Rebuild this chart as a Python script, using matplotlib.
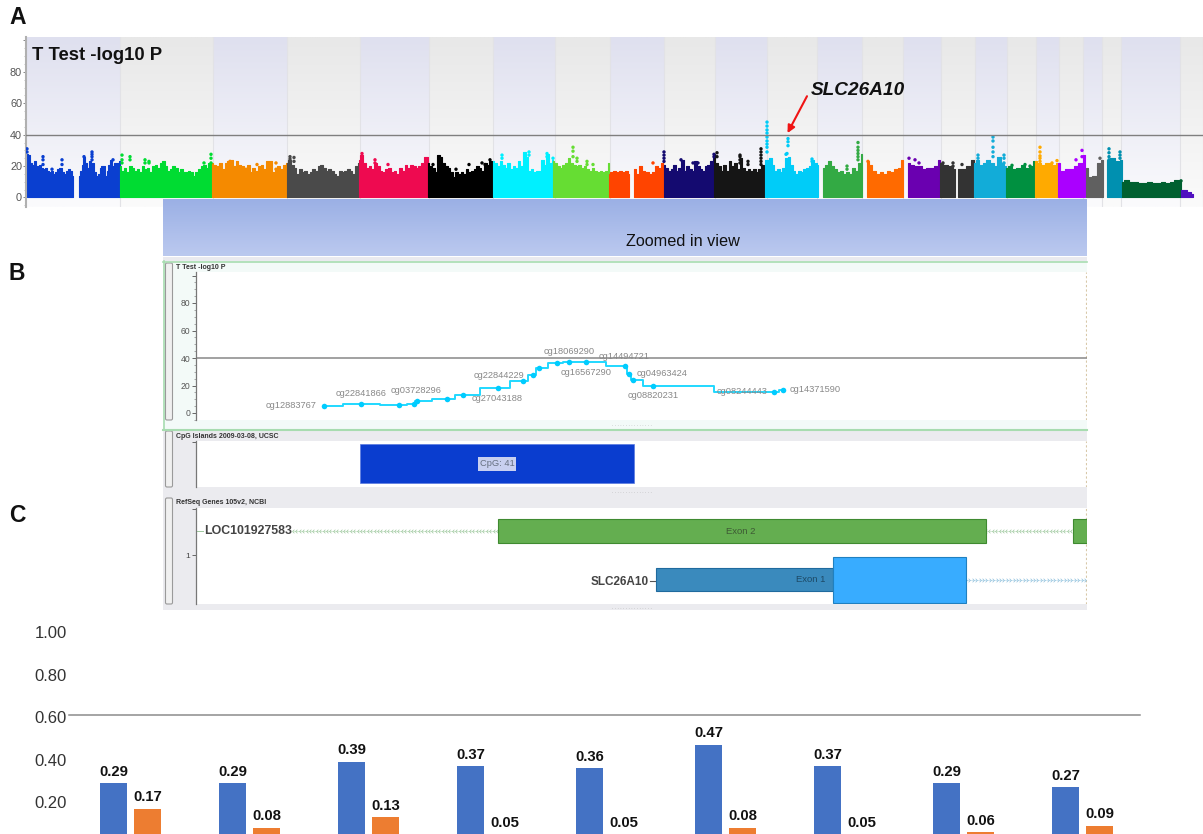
import numpy as np
import matplotlib
matplotlib.use("Agg")
import matplotlib.pyplot as plt
from matplotlib.patches import Rectangle, FancyBboxPatch
from matplotlib.path import Path
from matplotlib.ticker import MultipleLocator

plt.rcParams['font.family'] = ['Liberation Sans', 'DejaVu Sans']

# ---------- DATA ----------
# Manhattan: chromosome segments (start, end on the genome axis), colour and envelope of -log10 P
chrom_spans = [(27,73),(79,120),(120,212),(212,287),(287,359),(359,428),(428,493),(493,553),(553,609),
               (609,629),(634,663),(664,714),(714,765),(765,818),(823,862),(867,903),(908,940),(940,955),
               (958,974),(974,1006),(1006,1035),(1035,1058),(1058,1085),(1086,1103),(1107,1122),(1122,1181),(1181,1193)]
chrom_colors = ['#0a3fd0','#0a3fd0','#00dc32','#f58a00','#4a4a4a','#ee0a50','#000000','#00f0ff','#66dd33',
                '#ff4400','#ff4400','#140a70','#151515','#00ccf8','#33aa44','#ff6a00','#6a00b0','#333333',
                '#333333','#12acd8','#009040','#ffaa00','#aa00ff','#606060','#0090b0','#006030','#5010c0']
chrom_env = [
 [28,27,22,21,23,20,21,19,18,19,17,16,17,15,16,18,19,16,15,17,18,17,14],
 [14,17,21,26,22,19,23,17,22,16,14,15,19,20,20,14,17,21,24,20,22,19,22,23],
 [20,17,19,16,20,19,17,18,16,20,18,19,16,20,21,19,22,23,20,17,18,20,19,16,18,16,16,17,16,14,16,18,20,21,19,22,20],
 [22,21,20,22,18,22,23,24,20,23,21,20,18,21,16,19,17,20,21,18,23,23,16,19,20,18,21,22],
 [22,24,21,19,15,18,16,17,15,16,18,17,20,21,19,17,18,17,15,14,17,16,17,18,17,15,20,22],
 [24,27,22,19,20,18,22,20,17,16,18,19,16,17,15,19,17,21,19,21,20,19,20,22,26,26],
 [22,20,19,16,27,26,22,20,19,16,13,16,15,16,15,18,16,17,18,20,19,17,22,21,23,22],
 [23,22,20,23,21,19,22,18,20,19,23,20,29,26,17,18,16,17,17,24,21,28,22,24],
 [23,22,20,19,21,22,25,22,21,20,21,19,20,18,17,19,17,16,17,16,17,22],
 [15,16,17,16,17,16,17,15],
 [18,15,20,17,16,15,16,20,19,22],
 [21,19,17,18,21,17,19,24,17,20,18,17,23,20,18,17,20,21,23,26],
 [28,22,20,17,21,17,23,20,22,18,25,19,17,18,17,18,16,18,21,20],
 [24,24,25,21,17,18,16,19,25,26,21,17,15,17,16,18,19,20,24,22,21],
 [19,21,23,20,18,16,17,15,16,15,19,17,22,28],
 [23,21,17,15,16,15,17,16,18,19,24],
 [22,21,20,20,18,19,19,20,24],
 [22,21,20,18],
 [18,18,20,24],
 [22,24,21,22,24,22,20,26,22,20],
 [19,20,18,19,21,19,20,23],
 [23,22,21,22,22,21,22],
 [22,17,18,18,20,22,27],
 [19,13,14,22,24],
 [24,25,23,24],
 [10,11,10,10,9,9,10,9,9,10,9,10,11,11],
 [4.5,5,3.5,2],
]
# Points standing clear of the mass (genome position, -log10 P)
dot_x = [27,27,43,43,43,52,62,62,84,92,92,92,92,113,122,122,122,130,130,145,145,149,149,204,211,211,211,
         230,246,257,276,276,290,290,294,294,362,362,375,375,388,433,456,469,482,485,490,
         502,502,529,529,547,547,553,573,573,573,577,577,587,587,593,653,
         664,664,664,664,681,693,698,714,714,717,717,740,740,740,740,748,748,761,761,761,761,761,761,
         767,767,767,767,767,767,767,767,767,788,788,788,787,786,812,812,
         847,847,858,858,858,858,858,858,868,909,915,919,943,953,953,962,
         978,978,993,993,993,993,993,1004,1004,1004,1012,1025,1030,
         1040,1040,1040,1040,1040,1052,1057,1076,1082,1082,1100,1109,1109,1109,1109,1120,1120,1120,1181]
dot_y = [31,29,26,24,21,18,24,21,26,29,27.5,26,24,24,27,24,22,26,24,24,22,23,22,22,27.5,25,22,
         23,18,21,22,18,26,24.5,25.5,23,28,26,24,22,21,21,18,21,22,21,24,
         27,25,29,27,28,26,25,32,29.5,26,25,23,23,21,21,22,
         29,27,25,23,24,22,22,27.5,26,28.5,26,27,26,24,22,23,21,31,29,27,25,23,21,
         48,45.5,43,41,38.5,36,34,32,29,37.5,35.5,33,28,27.5,24.5,23,
         20,18,35,32,30,28,26,24,23,25,24,22,22,22,20,21,
         27,25,38.5,36,32,29,26,27,25,22,20.5,21,20,
         32,29,26.5,25,23,22,23.5,24,30,26,25,31,28.5,26,24,29,27,25,10.6]

band_edges = [26,120,213,287,360,429,493,555,610,664,715,767,817,862,903,941,975,1007,1036,1059,1083,1102,1121,1180,1203]
threshold_a = 40

# Zoomed track: CpG probes
probe_x = [324.3,361,399,414,416.7,446.7,463,497.7,523,532.7,539,556.7,569.3,586,625,629.3,632.7,653,774,783]
probe_y = [5.4,6.6,5.9,6.3,9,10.5,13.4,18,23,28,33,36.6,37.3,36.8,33.9,28.5,23.7,20,15.6,16.6]
probe_names = ['cg12883767','cg22841866','cg03728296','cg27043188','cg22844229','cg18069290','cg16567290',
               'cg14494721','cg04963424','cg08820231','cg08244443','cg14371590']
probe_label_x = [266,336,391,472,474,543.7,561,599,636.7,628,716.7,790]
probe_label_py = [405.7,393.3,390.3,398.3,375,351.7,372.7,356.7,374,395.7,391.7,389.7]

# Annotation tracks
cpg_span = (360,634)
cpg_label = 'CpG: 41'
exon2_span = (498,986)
exon_next_span = (1073,1087)
exon1_span = (656,833)
exon1_utr_span = (833,966)

# Bars
categories = list(range(9))
blue_vals = [0.29,0.29,0.39,0.37,0.36,0.47,0.37,0.29,0.27]
orange_vals = [0.17,0.08,0.13,0.05,0.05,0.08,0.05,0.06,0.09]
bar_ticks = [0.2,0.4,0.6,0.8,1.0]
bar_rule = 0.609

# ---------- LAYOUT ----------
W, H = 1203, 834
fig = plt.figure(figsize=(W/100, H/100), dpi=100, facecolor='white')

def box(x0, y0, x1, y1, **kw):
    return fig.add_axes([x0/W, 1-y1/H, (x1-x0)/W, (y1-y0)/H], **kw)

bg = box(0, 0, W, H, zorder=0)
bg.set_xlim(0, W); bg.set_ylim(H, 0); bg.axis('off')

def grad(ax, extent, top, bottom, z=0):
    c = np.linspace(0, 1, 64)[:, None, None]
    t = np.array(matplotlib.colors.to_rgb(top))[None, None, :]
    b = np.array(matplotlib.colors.to_rgb(bottom))[None, None, :]
    ax.imshow(t*(1-c)+b*c, extent=extent, aspect='auto', origin='upper', zorder=z, interpolation='bilinear')

# ---------- Panel A ----------
a = box(26, 37, 1203, 207, zorder=1)
ymin_a, ymax_a = -6.05, 102.2
for i, (x0, x1) in enumerate(zip(band_edges[:-1], band_edges[1:])):
    if i % 2 == 0:
        grad(a, (x0, x1, ymin_a, ymax_a), '#dfe0ef', '#fbfbfd')
    else:
        grad(a, (x0, x1, ymin_a, ymax_a), '#e8e8e8', '#fbfbfb')
    a.axvline(x1, color='#e2e2e6', lw=0.8, zorder=0.5)
for (x0, x1), col, env in zip(chrom_spans, chrom_colors, chrom_env):
    xs = np.linspace(x0, x1, len(env))
    a.fill_between(xs, 0, env, step='mid', facecolor=col, edgecolor=col, lw=0.8, zorder=2, joinstyle='round')
    a.fill_between([x0, x1], 0, min(6, min(env)), color=col, lw=0, zorder=2)
def span_color(x):
    for (x0, x1), col in zip(chrom_spans, chrom_colors):
        if x0 <= x <= x1:
            return col
    return '#000000'
a.scatter(dot_x, dot_y, s=6, c=[span_color(x) for x in dot_x], lw=0, zorder=3)
a.axhline(threshold_a, color='#7f7f7f', lw=1.0, zorder=4)
a.set_xlim(26, 1203); a.set_ylim(ymin_a, ymax_a)
a.set_xticks([])
a.set_yticks([0, 20, 40, 60, 80, 100])
a.set_yticklabels(['0', '20', '40', '60', '80', ''], fontsize=7.8, color='#555555')
a.yaxis.set_minor_locator(MultipleLocator(5))
a.tick_params(axis='y', which='major', length=2.5, width=0.7, color='#888888', pad=0.3)
a.tick_params(axis='y', which='minor', length=1.2, width=0.5, color='#aaaaaa')
for s in ['top', 'right', 'bottom']:
    a.spines[s].set_visible(False)
a.spines['left'].set_color('#b0b0b0'); a.spines['left'].set_linewidth(1.5)
a.text(31.5, 90.5, 'T Test -log10 P', fontsize=13.3, fontweight='bold', color='#111111', va='center', ha='left', zorder=6)
a.text(811, 68, 'SLC26A10', fontsize=13.7, fontweight='bold', style='italic', color='#111111', va='center', ha='left', zorder=6)
a.annotate('', xy=(787.5, 41), xytext=(807, 64.5),
           arrowprops=dict(arrowstyle='-|>', color='#f01414', lw=1.5, mutation_scale=11, shrinkA=0, shrinkB=0), zorder=6)

# ---------- Zoomed in view band ----------
z = box(163, 199, 1087, 256, zorder=2)
grad(z, (0, 1, 0, 1), '#9bb0e5', '#bbc9ef')
z.set_xlim(0, 1); z.set_ylim(0, 1); z.axis('off')
z.text(0.5625, 0.26, 'Zoomed in view', fontsize=11.7, color='#111111', ha='center', va='center')

# Backgrounds of tracks
bg.add_patch(Rectangle((163, 257), 924, 5, fc='#eaeaef', ec='none'))
bg.add_patch(Rectangle((163, 261), 924, 170, fc='#f3faf8', ec='none'))
bg.add_patch(Rectangle((163, 431), 924, 64, fc='#ebebef', ec='none'))
bg.add_patch(Rectangle((163, 495), 924, 115, fc='#ebebef', ec='none'))
bg.plot([163, 1087], [261.5, 261.5], color='#a8dcb0', lw=1.2)
bg.plot([163, 1087], [429.5, 429.5], color='#a8dcb0', lw=1.5)
bg.plot([164, 164], [261, 430], color='#a8dcb0', lw=1.2)
for y0, y1 in [(263, 420), (431, 487), (498, 604)]:
    bg.add_patch(FancyBboxPatch((165.5, y0), 7, y1-y0, boxstyle='round,pad=0,rounding_size=1.5',
                                fc='#f0f0f0', ec='#9a9a9a', lw=0.8))
for y, t in [(267.5, 'T Test -log10 P'), (436, 'CpG Islands 2009-03-08, UCSC'), (502, 'RefSeq Genes 105v2, NCBI')]:
    bg.text(176, y, t, fontsize=5, fontweight='bold', color='#333333', va='center', ha='left')
for y in [424.5, 491, 607.5]:
    bg.text(632, y, '. . . . . . . . . . . . . . .', fontsize=3.5, color='#999999', ha='center', va='center')
for label, x, y in [('A', 9, 17), ('B', 9, 273), ('C', 9, 515)]:
    bg.text(x, y, label, fontsize=16.5, fontweight='bold', color='#111111', va='center', ha='left')

# ---------- Panel B: probes ----------
b = box(196, 272, 1086.5, 420, zorder=1)
b.set_facecolor('white')
b.step(probe_x, probe_y, where='mid', color='#20d8ff', lw=1.4, zorder=3)
b.plot(probe_x, probe_y, ls='none', marker='o', ms=4, color='#00ccff', mew=0, zorder=4)
b.axhline(threshold_a, color='#888888', lw=1.1, zorder=2)
b.axvline(1085.5, color='#d8c8a8', lw=0.8, ls=(0, (2, 2)), zorder=1)
def by(py):
    return (413-py)/1.375
for name, lx, py in zip(probe_names, probe_label_x, probe_label_py):
    b.text(lx, by(py), name, fontsize=6.7, color='#888888', ha='left', va='center', zorder=5)
b.set_xlim(196, 1086.5); b.set_ylim(by(420), by(272))
b.set_xticks([])
b.set_yticks([0, 20, 40, 60, 80, 100])
b.set_yticklabels(['0', '20', '40', '60', '80', ''], fontsize=6.2, color='#555555')
b.yaxis.set_minor_locator(MultipleLocator(5))
b.tick_params(axis='y', which='major', length=3, width=0.7, color='#666666', pad=1)
b.tick_params(axis='y', which='minor', length=1.5, width=0.5, color='#888888')
for s in ['top', 'right', 'bottom']:
    b.spines[s].set_visible(False)
b.spines['left'].set_color('#777777'); b.spines['left'].set_linewidth(0.9)

# ---------- CpG track ----------
c = box(196, 441, 1086.5, 487, zorder=1)
c.set_facecolor('white')
c.barh(0.511, cpg_span[1]-cpg_span[0], left=cpg_span[0], height=0.848, color='#0a3dcf', edgecolor='#5a7ae0', lw=0.5)
c.text(sum(cpg_span)/2, 0.5, cpg_label, fontsize=6.7, color='#667080', ha='center', va='center',
       bbox=dict(fc='#c8d0f0', ec='none', pad=1.5))
c.axvline(1085.5, color='#d8c8a8', lw=0.8, ls=(0, (2, 2)))
c.set_xlim(196, 1086.5); c.set_ylim(0, 1)
c.set_xticks([]); c.set_yticks([0.98]); c.set_yticklabels([''])
c.tick_params(axis='y', length=3, width=0.7, color='#666666')
for s in ['top', 'right', 'bottom']:
    c.spines[s].set_visible(False)
c.spines['left'].set_color('#777777'); c.spines['left'].set_linewidth(0.9)

# ---------- RefSeq track ----------
r = box(196, 508, 1087, 604, zorder=1)
r.set_facecolor('white')
left_chev = Path([(0.5, 1), (-0.5, 0), (0.5, -1)], [Path.MOVETO, Path.LINETO, Path.LINETO])
right_chev = Path([(-0.5, 1), (0.5, 0), (-0.5, -1)], [Path.MOVETO, Path.LINETO, Path.LINETO])
for x0, x1 in [(293, exon2_span[0]), (exon2_span[1], exon_next_span[0])]:
    xs = np.arange(x0, x1, 3.4)
    r.plot(xs, [531]*len(xs), ls='-', lw=0.4, color='#b8d8b8', marker=left_chev, ms=2.6, mfc='none', mec='#9dc79d', mew=0.5)
r.plot([197, 203], [531, 531], color='#9dc79d', lw=0.7)
xs = np.arange(exon1_utr_span[1], 1087, 3.4)
r.plot(xs, [580]*len(xs), ls='-', lw=0.4, color='#b0d4e8', marker=right_chev, ms=2.6, mfc='none', mec='#8ec0dc', mew=0.5)
r.plot([649.5, 656], [581, 581], color='#555555', lw=0.8)
def exon(ax, span, yc, h, fc, ec):
    ax.barh(yc, span[1]-span[0], left=span[0], height=h, color=fc, edgecolor=ec, lw=0.8, zorder=3)
exon(r, exon2_span, 531, 24, '#64ae50', '#3f8a30')
exon(r, exon_next_span, 531, 24, '#64ae50', '#3f8a30')
exon(r, exon1_span, 579.5, 23, '#3a8abd', '#1f6a9e')
exon(r, exon1_utr_span, 580, 46, '#38acff', '#2080c0')
r.text(741, 531, 'Exon 2', fontsize=6.8, color='#3d5a34', ha='center', va='center', zorder=4)
r.text(811, 580, 'Exon 1', fontsize=6.8, color='#1d4a66', ha='center', va='center', zorder=4)
r.text(204, 531, 'LOC101927583', fontsize=8.9, fontweight='bold', color='#444444', ha='left', va='center', zorder=4)
r.text(649, 582, 'SLC26A10', fontsize=8.5, fontweight='bold', color='#444444', ha='right', va='center', zorder=4)
r.axvline(1085.5, color='#d8c8a8', lw=0.8, ls=(0, (2, 2)), zorder=1)
r.set_xlim(196, 1087); r.set_ylim(604, 508)
r.set_xticks([]); r.set_yticks([555, 509]); r.set_yticklabels(['1', ''], fontsize=6, color='#444444')
r.tick_params(axis='y', length=3, width=0.7, color='#666666', pad=1)
for s in ['top', 'right', 'bottom']:
    r.spines[s].set_visible(False)
r.spines['left'].set_color('#777777'); r.spines['left'].set_linewidth(0.9)

# ---------- Bars ----------
d = box(0, 620, W, H, zorder=1)
d.patch.set_alpha(0)
pos = np.array(categories, dtype=float)
bw, off = 27/119, 17/119
bars1 = d.bar(pos-off, blue_vals, bw, color='#4472c4')
bars2 = d.bar(pos+off, orange_vals, bw, color='#ed7d31')
for x, v in list(zip(pos-off, blue_vals))+list(zip(pos+off, orange_vals)):
    d.annotate(f'{v:.2f}', (x, v), xytext=(0, 8.4), textcoords='offset points', ha='center', va='center',
               fontsize=10.7, fontweight='bold', color='#111111', annotation_clip=False)
d.plot([(69-130.5)/119, (1140-130.5)/119], [bar_rule, bar_rule], color='#8c8c8c', lw=1.1)
d.set_xlim(-130.5/119, (W-130.5)/119)
d.set_ylim((845-834)/213, (845-620)/213)
d.set_xticks([])
d.set_yticks(bar_ticks)
d.set_yticklabels([f'{t:.2f}' for t in bar_ticks], fontsize=12, color='#333333')
d.tick_params(axis='y', length=0, direction='in', pad=-48.2)
for lab in d.get_yticklabels():
    lab.set_ha('right')
for s in d.spines.values():
    s.set_visible(False)

fig.savefig('out.png', dpi=100)
